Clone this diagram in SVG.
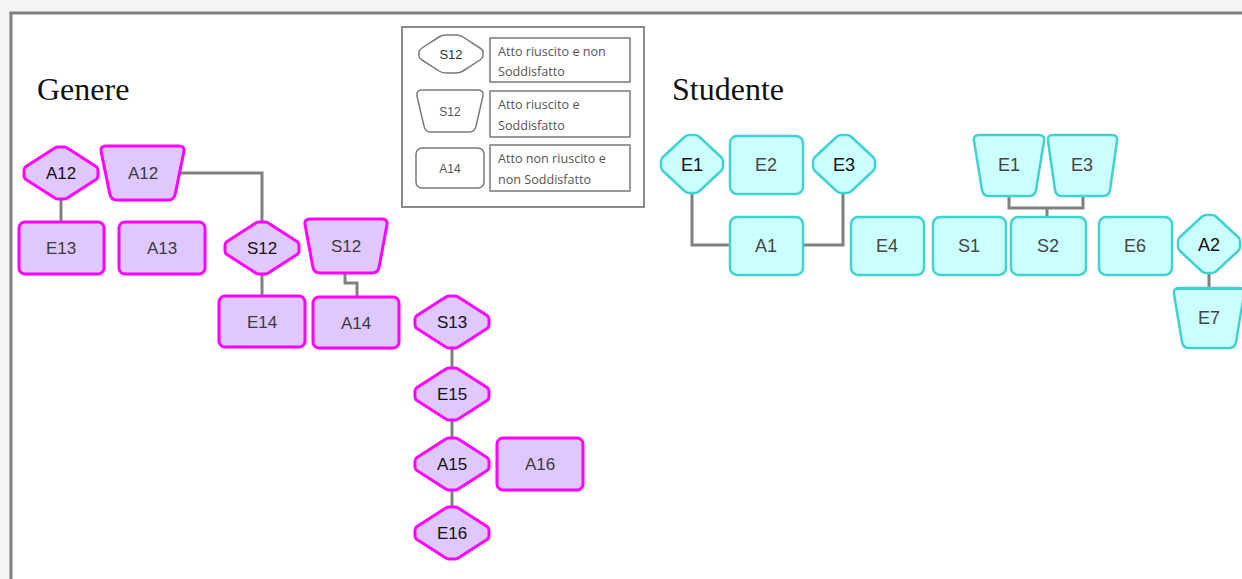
<svg xmlns="http://www.w3.org/2000/svg" width="1242" height="579" viewBox="0 0 1242 579">
<style>
.pk{fill:#dfc8ff;stroke:#ff00ff;stroke-width:3;stroke-linejoin:round}
.tl{fill:#ccffff;stroke:#3fd3d0;stroke-width:2.5;stroke-linejoin:round}
.lg{fill:#ffffff;stroke:#7a7a7a;stroke-width:1.5;stroke-linejoin:round}
.lb{font-family:"Liberation Sans",Arial,sans-serif;font-size:17px;fill:#3a3a3a;text-anchor:middle}
.lbd{font-family:"Liberation Sans",Arial,sans-serif;font-size:17px;fill:#111;text-anchor:middle}
.tt{font-family:"Liberation Sans",Arial,sans-serif;font-size:18px;fill:#444;text-anchor:middle}
.ttd{font-family:"Liberation Sans",Arial,sans-serif;font-size:18px;fill:#111;text-anchor:middle}
.ttl{font-family:"Liberation Serif","Times New Roman",serif;font-size:32px;fill:#111}
.lt{font-family:"Open Sans","Noto Sans",sans-serif;font-size:12.6px;fill:#555}
.ls{font-family:"Liberation Sans",Arial,sans-serif;font-size:13px;fill:#333;text-anchor:middle}
.cn{fill:none;stroke:#808080;stroke-width:3}
</style>
<defs>
<path id="dpk" class="pk" d="M-37,-3 Q-37,-5 -35,-6.5 L-7,-24.5 Q-5,-26 -3,-26 H3 Q5,-26 7,-24.5 L35,-6.5 Q37,-5 37,-3 V3 Q37,5 35,6.5 L7,24.5 Q5,26 3,26 H-3 Q-5,26 -7,24.5 L-35,6.5 Q-37,5 -37,3 Z"/>
<path id="dtl" class="tl" d="M-31,-3 Q-31,-5 -29,-7 L-7,-27.5 Q-5,-29 -3,-29 H3 Q5,-29 7,-27.5 L29,-7 Q31,-5 31,-3 V3 Q31,5 29,7 L7,27.5 Q5,29 3,29 H-3 Q-5,29 -7,27.5 L-29,7 Q-31,5 -31,3 Z"/>
<path id="dlg" class="lg" d="M-32,-2 Q-32,-4 -29,-6 L-12,-17 Q-9,-19 -5,-19 H5 Q9,-19 12,-17 L29,-6 Q32,-4 32,-2 V2 Q32,4 29,6 L12,17 Q9,19 5,19 H-5 Q-9,19 -12,17 L-29,6 Q-32,4 -32,2 Z"/>
</defs>
<rect x="0" y="0" width="1242" height="579" fill="#f5f5f5"/>
<rect x="12" y="14" width="1230" height="565" fill="#ffffff"/>
<line x1="9.5" y1="13" x2="1242" y2="13" stroke="#808080" stroke-width="3"/>
<line x1="11" y1="12" x2="11" y2="579" stroke="#808080" stroke-width="3"/>

<text class="ttl" x="37" y="100">Genere</text>
<text class="ttl" x="672" y="100">Studente</text>

<g id="legend">
<rect x="402" y="27" width="242" height="180" fill="#ffffff" stroke="#8a8a8a" stroke-width="2"/>
<use href="#dlg" x="451" y="54"/>
<text class="ls" x="451" y="59">S12</text>
<rect class="lg" x="490" y="38" width="140" height="44"/>
<text class="lt" x="498" y="56">Atto riuscito e non</text>
<text class="lt" x="498" y="76">Soddisfatto</text>
<path class="lg" d="M422,90 H478 Q484,90 483,96 L476,126 Q475,132 469,132 H431 Q425,132 424,126 L417,96 Q416,90 422,90 Z"/>
<text class="ls" x="450" y="116" style="font-size:12px;fill:#555">S12</text>
<rect class="lg" x="490" y="91" width="140" height="46"/>
<text class="lt" x="498" y="109">Atto riuscito e</text>
<text class="lt" x="498" y="130">Soddisfatto</text>
<rect class="lg" x="416" y="148" width="68" height="40" rx="6"/>
<text class="ls" x="450" y="173" style="font-size:12px;fill:#555">A14</text>
<rect class="lg" x="490" y="145" width="140" height="46"/>
<text class="lt" x="498" y="163">Atto non riuscito e</text>
<text class="lt" x="498" y="184">non Soddisfatto</text>
</g>

<g id="connectors">
<path class="cn" d="M61,199 V222"/>
<path class="cn" d="M180,173 H262 V222"/>
<path class="cn" d="M262,274 V296"/>
<path class="cn" d="M345,273 V283 H357 V297"/>
<path class="cn" d="M452,348 V368"/>
<path class="cn" d="M452,420 V438"/>
<path class="cn" d="M452,490 V507"/>
<path class="cn" d="M692,193 V245 H730" stroke-width="2.5"/>
<path class="cn" d="M803,245 H843 V193" stroke-width="2.5"/>
<path class="cn" d="M1009,196 V208 H1083 V196" stroke-width="2"/>
<path class="cn" d="M1047,208 V217" stroke-width="2"/>
<path class="cn" d="M1209,273 V288" stroke-width="1.5"/>
</g>

<g id="g-a12d"><use href="#dpk" x="61" y="173"/><text class="lbd" x="61" y="179">A12</text></g>
<g id="g-a12t"><path class="pk" d="M106,146 H179 Q185,146 183.8,152 L175.2,194 Q174,200 168,200 H117 Q111,200 109.8,194 L101.2,152 Q100,146 106,146 Z"/><text class="lb" x="143" y="179">A12</text></g>
<g id="g-e13"><rect class="pk" x="19" y="222" width="85" height="52" rx="6"/><text class="lb" x="61" y="254">E13</text></g>
<g id="g-a13"><rect class="pk" x="119" y="222" width="86" height="52" rx="6"/><text class="lb" x="162" y="254">A13</text></g>
<g id="g-s12d"><use href="#dpk" x="262" y="248"/><text class="lbd" x="262" y="254">S12</text></g>
<g id="g-s12t"><path class="pk" d="M310,219 H382 Q388,219 386.9,225 L379.1,267 Q378,273 372,273 H320 Q314,273 312.9,267 L305.1,225 Q304,219 310,219 Z"/><text class="lb" x="346" y="252">S12</text></g>
<g id="g-e14"><rect class="pk" x="219" y="296" width="86" height="51" rx="6"/><text class="lb" x="262" y="328">E14</text></g>
<g id="g-a14"><rect class="pk" x="313" y="297" width="86" height="51" rx="6"/><text class="lb" x="356" y="329">A14</text></g>
<g id="g-s13"><use href="#dpk" x="452" y="322"/><text class="lbd" x="452" y="328">S13</text></g>
<g id="g-e15"><use href="#dpk" x="452" y="394"/><text class="lbd" x="452" y="400">E15</text></g>
<g id="g-a15"><use href="#dpk" x="452" y="464"/><text class="lbd" x="452" y="470">A15</text></g>
<g id="g-e16"><use href="#dpk" x="452" y="533"/><text class="lbd" x="452" y="539">E16</text></g>
<g id="g-a16"><rect class="pk" x="497" y="438" width="86" height="52" rx="6"/><text class="lb" x="540" y="470">A16</text></g>

<g id="s-e1d"><use href="#dtl" x="692" y="164"/><text class="ttd" x="692" y="171">E1</text></g>
<g id="s-e2"><rect class="tl" x="730" y="136" width="73" height="58" rx="7"/><text class="tt" x="766" y="171">E2</text></g>
<g id="s-e3d"><use href="#dtl" x="844" y="164"/><text class="ttd" x="844" y="171">E3</text></g>
<g id="s-a1"><rect class="tl" x="730" y="217" width="73" height="58" rx="7"/><text class="tt" x="766" y="252">A1</text></g>
<g id="s-e4"><rect class="tl" x="851" y="217" width="73" height="58" rx="7"/><text class="tt" x="887" y="252">E4</text></g>
<g id="s-e1t"><path class="tl" d="M979,135 H1039 Q1045,135 1044,141 L1036,190 Q1035,196 1029,196 H989 Q983,196 982,190 L974,141 Q973,135 979,135 Z"/><text class="tt" x="1009" y="171">E1</text></g>
<g id="s-e3t"><path class="tl" d="M1053,135 H1112 Q1118,135 1117,141 L1110,190 Q1109,196 1103,196 H1062 Q1056,196 1055,190 L1048,141 Q1047,135 1053,135 Z"/><text class="tt" x="1082" y="171">E3</text></g>
<g id="s-s1"><rect class="tl" x="933" y="217" width="73" height="58" rx="7"/><text class="tt" x="969" y="252">S1</text></g>
<g id="s-s2"><rect class="tl" x="1011" y="217" width="75" height="58" rx="7"/><text class="tt" x="1048" y="252">S2</text></g>
<g id="s-e6"><rect class="tl" x="1099" y="217" width="73" height="58" rx="7"/><text class="tt" x="1135" y="252">E6</text></g>
<g id="s-a2d"><use href="#dtl" x="1209" y="244"/><text class="ttd" x="1209" y="251">A2</text></g>
<g id="s-e7t"><path class="tl" d="M1179,288 H1239 Q1245,288 1244,294 L1236,342 Q1235,348 1229,348 H1189 Q1183,348 1182,342 L1174,294 Q1173,288 1179,288 Z"/><line x1="1176" y1="288.5" x2="1242" y2="288.5" stroke="#3fd3d0" stroke-width="3"/><text class="tt" x="1209" y="324">E7</text></g>
</svg>
